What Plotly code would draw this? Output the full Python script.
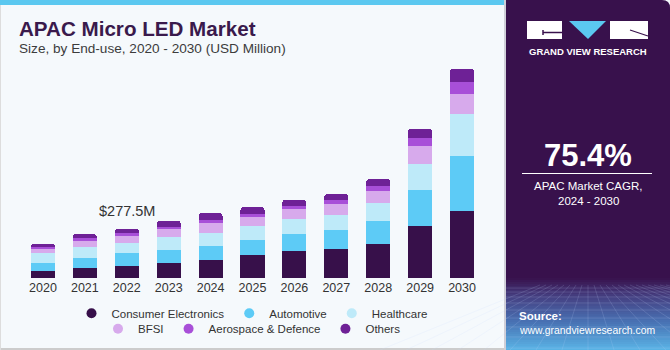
import plotly.graph_objects as go

# ---------------- data ----------------
years = ["2020", "2021", "2022", "2023", "2024", "2025", "2026", "2027", "2028", "2029", "2030"]
consumer_electronics = [42.8, 58.0, 70.9, 87.8, 103.0, 131.2, 152.0, 165.0, 194.8, 296.1, 378.9]
automotive = [43.4, 58.0, 69.8, 73.2, 78.8, 86.1, 99.1, 107.0, 129.5, 201.0, 309.7]
healthcare = [56.3, 62.0, 59.7, 69.8, 74.9, 77.1, 82.8, 84.5, 98.0, 148.1, 236.5]
bfsi = [22.5, 33.8, 37.7, 45.0, 52.9, 52.4, 54.6, 61.9, 70.9, 95.7, 112.6]
aerospace = [13.0, 15.2, 15.2, 14.6, 18.6, 15.2, 18.6, 22.5, 26.5, 49.0, 67.6]
others = [15.2, 20.8, 24.2, 32.1, 37.7, 37.7, 33.8, 32.1, 37.7, 50.7, 71.5]

series_names = ["Consumer Electronics", "Automotive", "Healthcare", "BFSI", "Aerospace & Defence", "Others"]
series_values = [consumer_electronics, automotive, healthcare, bfsi, aerospace, others]
series_colors = ["#37104A", "#5DCBF6", "#BEEAF9", "#D7AAEC", "#A84FD8", "#6E2196"]

label_year = "2022"
label_text = "$277.5M"
cagr_text = "75.4%"

W, H = 670, 350
FONT = "Liberation Sans"


def px(x):
    return x / W


def py(y):
    return 1 - y / H


fig = go.Figure()

for name, vals, col in zip(series_names, series_values, series_colors):
    fig.add_trace(go.Bar(
        x=years, y=vals, name=name, marker=dict(color=col, line=dict(width=0)),
        showlegend=False, hoverinfo="x+y+name"))

# legend entries (circle markers) on a hidden helper axis, split over two centred rows
for i, (name, col) in enumerate(zip(series_names, series_colors)):
    fig.add_trace(go.Scatter(
        x=[0], y=[0], mode="markers", name=name, xaxis="x2", yaxis="y2",
        marker=dict(color=col, size=10, symbol="circle"), hoverinfo="skip",
        legend="legend" if i < 3 else "legend2", showlegend=True))

# total label for 2022 (category axis -> use category index)
idx = years.index(label_year)
total = sum(v[idx] for v in series_values)
fig.add_annotation(x=idx, y=total, xref="x", yref="y", text=label_text,
                   showarrow=False, yanchor="middle", yshift=18,
                   font=dict(family=FONT, size=14.5, color="#333333"))

shapes = []
shapes.append(dict(type="rect", xref="paper", yref="paper", x0=0, x1=px(505), y0=py(5), y1=py(0),
                   fillcolor="#5BC8F0", line=dict(width=0), layer="below"))
shapes.append(dict(type="rect", xref="paper", yref="paper", x0=0, x1=px(505), y0=py(350), y1=py(348),
                   fillcolor="#CCCCCC", line=dict(width=0), layer="below"))
shapes.append(dict(type="rect", xref="paper", yref="paper", x0=0, x1=px(1), y0=py(350), y1=py(5),
                   fillcolor="#DDDDDD", line=dict(width=0), layer="below"))
shapes.append(dict(type="rect", xref="paper", yref="paper", x0=px(504), x1=px(506), y0=0, y1=1,
                   fillcolor="#CFCFD8", line=dict(width=0), layer="below"))

r = 8
x0, x1 = 506, 670
path = (f"M {px(x0)},{py(0)} L {px(x1 - r)},{py(0)} "
        f"Q {px(x1)},{py(0)} {px(x1)},{py(r)} "
        f"L {px(x1)},{py(350)} L {px(x0)},{py(350)} Z")
shapes.append(dict(type="path", xref="paper", yref="paper", path=path,
                   fillcolor="#38114C", line=dict(width=0), layer="below"))


def lerp(c1, c2, t):
    return "#%02x%02x%02x" % tuple(int(round(a + (b - a) * t)) for a, b in zip(c1, c2))


g_top, g_bot = 278, 350
stops = [(0.0, (0x38, 0x11, 0x4C)), (0.25, (0x45, 0x3E, 0x80)), (0.6, (0x48, 0x70, 0xB2)), (1.0, (0x5A, 0xB4, 0xE6))]
n = 36
for k in range(n):
    t = (k + 0.5) / n
    for j in range(len(stops) - 1):
        if stops[j][0] <= t <= stops[j + 1][0]:
            tt = (t - stops[j][0]) / (stops[j + 1][0] - stops[j][0])
            col = lerp(stops[j][1], stops[j + 1][1], tt)
            break
    ya = g_top + (g_bot - g_top) * k / n
    yb = g_top + (g_bot - g_top) * (k + 1) / n + 0.5
    shapes.append(dict(type="rect", xref="paper", yref="paper", x0=px(x0), x1=px(x1),
                       y0=py(yb), y1=py(ya), fillcolor=col, line=dict(width=0), layer="below"))

for k in range(-8, 16):
    shapes.append(dict(type="line", xref="paper", yref="paper",
                       x0=px(588 + k * 6), y0=py(285), x1=px(588 + k * 26), y1=py(350),
                       line=dict(color="rgba(200,220,255,0.16)", width=1), layer="below"))
for yy in [288, 292, 297, 303, 310, 318, 327, 337, 348]:
    shapes.append(dict(type="line", xref="paper", yref="paper",
                       x0=px(x0), y0=py(yy), x1=px(x1), y1=py(yy),
                       line=dict(color="rgba(200,220,255,0.16)", width=1), layer="below"))

# logo
shapes.append(dict(type="rect", xref="paper", yref="paper", x0=px(527), x1=px(562), y0=py(39), y1=py(21),
                   fillcolor="white", line=dict(width=0)))
shapes.append(dict(type="line", xref="paper", yref="paper", x0=px(543), x1=px(562), y0=py(32.5), y1=py(32.5),
                   line=dict(color="#38114C", width=1.5)))
shapes.append(dict(type="line", xref="paper", yref="paper", x0=px(543), x1=px(543), y0=py(30), y1=py(35),
                   line=dict(color="#38114C", width=1.5)))
shapes.append(dict(type="path", xref="paper", yref="paper",
                   path=f"M {px(569)},{py(21)} L {px(606)},{py(21)} L {px(588)},{py(39)} Z",
                   fillcolor="#5BC8F0", line=dict(width=0)))
shapes.append(dict(type="rect", xref="paper", yref="paper", x0=px(610), x1=px(648), y0=py(39), y1=py(21),
                   fillcolor="white", line=dict(width=0)))
shapes.append(dict(type="line", xref="paper", yref="paper", x0=px(630), x1=px(648), y0=py(30), y1=py(36),
                   line=dict(color="#38114C", width=1.2)))
shapes.append(dict(type="line", xref="paper", yref="paper", x0=px(522), x1=px(652), y0=py(173.5), y1=py(173.5),
                   line=dict(color="white", width=1)))

annotations = [
    dict(text="<b>APAC Micro LED Market</b>", x=px(17), y=py(28.5), xanchor="left", yanchor="middle",
         font=dict(family=FONT, size=20.6, color="#3A1A4C")),
    dict(text="Size, by End-use, 2020 - 2030 (USD Million)", x=px(17), y=py(48.3), xanchor="left",
         yanchor="middle", font=dict(family=FONT, size=13.6, color="#3C3C3C")),
    dict(text="<b>GRAND VIEW RESEARCH</b>", x=px(587.5), y=py(51.5), xanchor="center", yanchor="middle",
         font=dict(family=FONT, size=9.5, color="white")),
    dict(text=f"<b>{cagr_text}</b>", x=px(588), y=py(155), xanchor="center", yanchor="middle",
         font=dict(family=FONT, size=31, color="white")),
    dict(text="APAC Market CAGR,", x=px(588), y=py(186), xanchor="center", yanchor="middle",
         font=dict(family=FONT, size=11.5, color="white")),
    dict(text="2024 - 2030", x=px(588), y=py(201), xanchor="center", yanchor="middle",
         font=dict(family=FONT, size=11.5, color="white")),
    dict(text="<b>Source:</b>", x=px(517), y=py(316), xanchor="left", yanchor="middle",
         font=dict(family=FONT, size=11.5, color="white")),
    dict(text="www.grandviewresearch.com", x=px(517), y=py(330.5), xanchor="left", yanchor="middle",
         font=dict(family=FONT, size=10.4, color="white")),
]
for a in annotations:
    a.update(xref="paper", yref="paper", showarrow=False)
    fig.add_annotation(**a)

fig.update_layout(
    width=W, height=H, autosize=False,
    margin=dict(l=0, r=0, t=0, b=0),
    paper_bgcolor="#F5F9FC", plot_bgcolor="rgba(0,0,0,0)",
    barmode="stack", bargap=0.427, barcornerradius=3,
    font=dict(family=FONT, color="#333333"),
    shapes=shapes,
    xaxis=dict(domain=[px(22), px(483)], type="category", range=[-0.5, len(years) - 0.5],
               showgrid=False, zeroline=False, showline=False, ticks="",
               tickfont=dict(family=FONT, size=12.5, color="#333333"), fixedrange=True),
    yaxis=dict(domain=[py(278.3), py(47)], range=[0, 1300], visible=False, showgrid=False,
               fixedrange=True),
    xaxis2=dict(domain=[0, 0.01], range=[10, 11], visible=False, fixedrange=True, anchor="y2"),
    yaxis2=dict(domain=[0, 0.01], range=[10, 11], visible=False, fixedrange=True, anchor="x2"),
    legend=dict(orientation="h", x=px(252), xanchor="center", y=py(313.3), yanchor="middle",
                font=dict(family=FONT, size=11.5, color="#333333"), bgcolor="rgba(0,0,0,0)",
                itemwidth=30, tracegroupgap=0, traceorder="normal"),
    legend2=dict(orientation="h", x=px(252), xanchor="center", y=py(328.7), yanchor="middle",
                 font=dict(family=FONT, size=11.5, color="#333333"), bgcolor="rgba(0,0,0,0)",
                 itemwidth=30, tracegroupgap=0, traceorder="normal"),
    showlegend=True,
)

fig.write_html("out.html")
